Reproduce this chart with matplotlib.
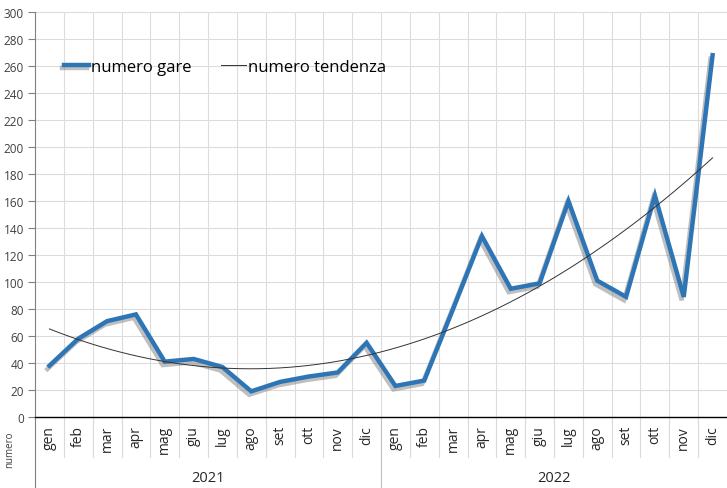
import numpy as np
import matplotlib
matplotlib.use("Agg")
import matplotlib.pyplot as plt
import matplotlib.patheffects as pe
import matplotlib.transforms as mtransforms

plt.rcParams['font.family'] = ['Open Sans', 'DejaVu Sans']

months = ["gen", "feb", "mar", "apr", "mag", "giu", "lug", "ago", "set", "ott", "nov", "dic"]
years = ["2021", "2022"]
numero_gare = [38, 58, 71, 76, 41, 43, 37, 19, 26, 30, 33, 55,
               23, 27, 80, 134, 95, 99, 160, 101, 89, 164, 89, 268]
y_ticks = list(range(0, 301, 20))

n = len(numero_gare)
x = np.arange(n)
coef = np.polyfit(x, numero_gare, 2)
xs = np.linspace(0, n - 1, 200)
trend = np.polyval(coef, xs)

fig = plt.figure(figsize=(7.27, 4.89), dpi=100)
ax = fig.add_axes([35/727, 71/489, 692/727, 405/489])
ax.set_xlim(-0.5, n - 0.5)
ax.set_ylim(0, 300)

# grid
for yv in y_ticks[1:]:
    ax.axhline(yv, color='#dcdcdc', lw=0.8, zorder=0)
for b in np.arange(0.5, n - 0.5, 1):
    ax.axvline(b, color='#dcdcdc', lw=0.8, zorder=0)

ax.plot(x, numero_gare, color='#2e75b6', lw=3.2, solid_joinstyle='miter', zorder=3,
        label='numero gare',
        path_effects=[pe.SimpleLineShadow(offset=(-1.5, -2.5), shadow_color='gray', alpha=0.5),
                      pe.Normal()])
ax.plot(xs, trend, color='#333333', lw=0.7, zorder=4, label='numero tendenza')

for s in ['top', 'right']:
    ax.spines[s].set_visible(False)
ax.spines['left'].set_color('#808080')
ax.spines['bottom'].set_color('#000000')
ax.spines['bottom'].set_linewidth(1.0)

ax.set_yticks(y_ticks)
ax.set_yticklabels([str(v) for v in y_ticks], fontsize=8.5, color='#404040')
ax.tick_params(axis='y', length=5, color='#808080', pad=3)
ax.set_xticks([])

trans = mtransforms.blended_transform_factory(ax.transData, ax.transAxes)
px = 1 / 405.0
# month labels
for i in range(n):
    ax.text(i, -8 * px, months[i % 12], transform=trans, rotation=90,
            ha='center', va='top', fontsize=10, color='#262626')
# separators between months
for b in np.arange(0.5, n - 0.5, 1):
    if b == 11.5:
        continue
    ax.plot([b, b], [0, -40 * px], transform=trans, color='#d9d9d9', lw=0.8, clip_on=False)
# year separator & left line extension
ax.plot([11.5, 11.5], [0, -71 * px], transform=trans, color='#bfbfbf', lw=0.8, clip_on=False)
ax.plot([-0.5, -0.5], [0, -71 * px], transform=trans, color='#808080', lw=0.8, clip_on=False)
for k, yr in enumerate(years):
    ax.text(5.5 + 12 * k, -61 * px, yr, transform=trans, ha='center', va='center',
            fontsize=10.5, color='#262626')

fig.text(10/727, 1 - 450/489, 'numero', rotation=90, ha='center', va='center',
         fontsize=7, color='#404040')

leg = ax.legend(loc='upper left', bbox_to_anchor=(0.02, 0.922), ncol=2, frameon=False,
                fontsize=12, handlelength=1.5, handletextpad=0.1, columnspacing=1.8)

fig.savefig('out.png', dpi=100, facecolor='white')
